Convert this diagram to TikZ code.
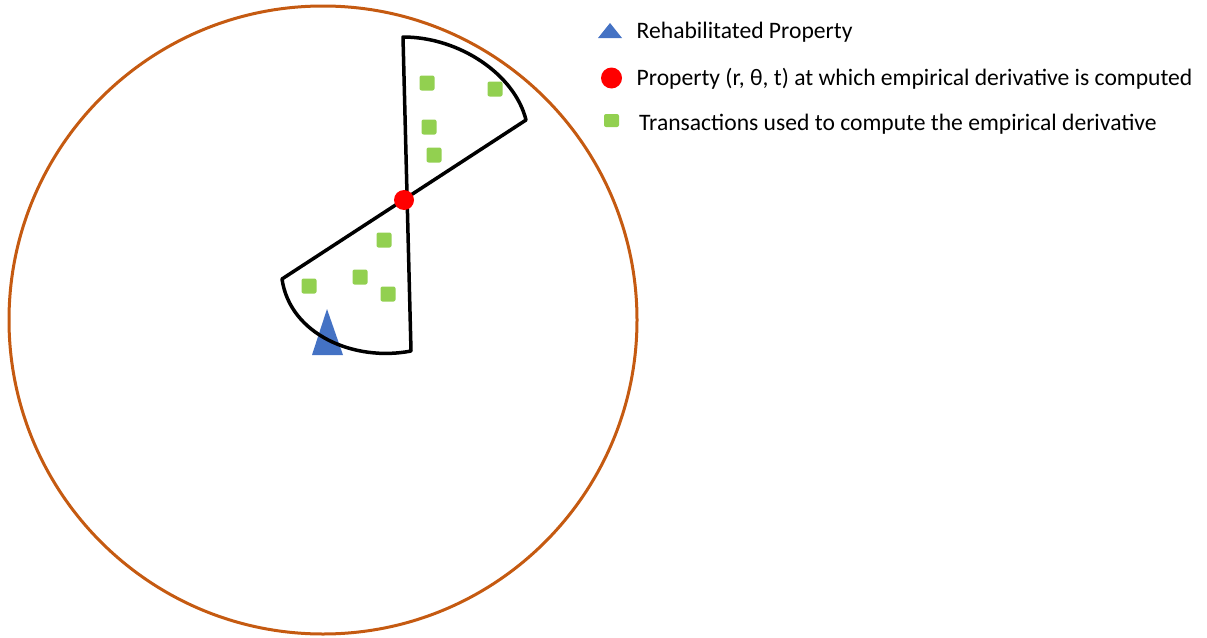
\documentclass[tikz,border=0pt]{standalone}
\usepackage{fontspec}
\setmainfont{Carlito}
\definecolor{ringc}{HTML}{C55A11}
\definecolor{greenc}{HTML}{92D050}
\definecolor{bluec}{HTML}{4472C4}
\tikzset{
  sq/.style={fill=greenc, draw=none, minimum size=15pt, inner sep=0pt, rounded corners=2pt, rectangle},
  sqs/.style={sq, minimum width=15pt, minimum height=13pt},
  dot/.style={circle, fill=red, draw=none, minimum size=20pt, inner sep=0pt},
  wedge/.style={draw=black, line width=3.5pt, line join=round},
  lab/.style={anchor=base west, inner sep=0pt, font=\fontsize{23.6}{28}\selectfont}
}
\begin{document}
\begin{tikzpicture}[x=1pt,y=-1pt]
\useasboundingbox (0,0) rectangle (1207,637);
\draw[ringc, line width=3pt] (323,320) circle (314);
% coordinates of the wedges
\coordinate (t1) at (403,37);
\coordinate (t2) at (526,120);
\coordinate (b1) at (282,279);
\coordinate (b2) at (411,351);
% triangle (rehabilitated property)
\fill[bluec] (312,355) -- (327,309) -- (343,355) -- cycle;
% wedges
\draw[wedge] (t1) .. controls (460,37) and (515,75) .. (t2) -- (b1) .. controls (290,335) and (355,362) .. (b2) -- cycle;
% green squares
\node[sq] (s1) at (427,83) {};
\node[sq] (s2) at (495,89) {};
\node[sq] (s3) at (429,127) {};
\node[sq] (s4) at (434,155) {};
\node[sq] (s5) at (384,240) {};
\node[sq] (s6) at (309,286) {};
\node[sq] (s7) at (360,277) {};
\node[sq] (s8) at (388,294) {};
% red dot
\node[dot] (d) at (404,200) {};
% legend
\fill[bluec] (598,38) -- (610,23) -- (622,38) -- cycle;
\node[lab] (l1) at (636.5,38) {Rehabilitated Property};
\node[dot, minimum size=21pt] (ldot) at (611.5,78) {};
\node[lab] (l2) at (636.5,85) {Property (r, θ, t) at which empirical derivative is computed};
\node[sqs] (lsq) at (611.5,120.5) {};
\node[lab] (l3) at (639,130) {Transactions used to compute the empirical derivative};
\end{tikzpicture}
\end{document}
